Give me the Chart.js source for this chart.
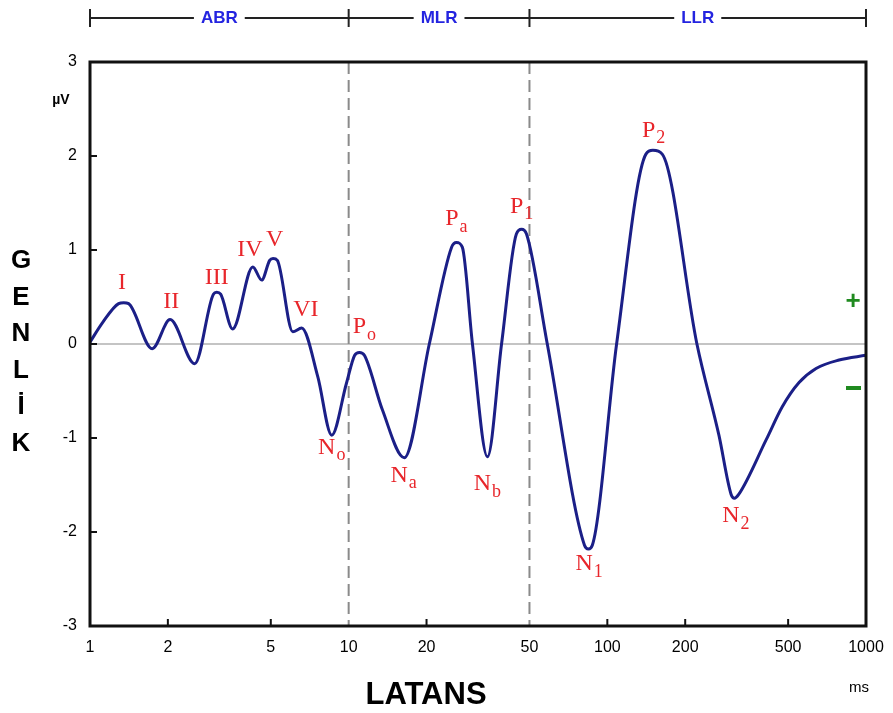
<!DOCTYPE html>
<html>
<head>
<meta charset="utf-8">
<script src="https://cdn.jsdelivr.net/npm/chart.js@4.4.1/dist/chart.umd.min.js"></script>
<style>
  html, body { margin: 0; padding: 0; background: #fff; }
  #wrap { width: 893px; height: 713px; position: relative; }
</style>
</head>
<body>
<div id="wrap"><canvas id="erpChart"></canvas></div>
<script>
// waveform (latency in ms, amplitude in µV)
const latencyMs = [1.0, 1.12, 1.29, 1.35, 1.41, 1.74, 2.04, 2.54, 3.0, 3.09, 3.2, 3.56, 4.26, 4.61,
  4.95, 5.1, 5.3, 6.08, 6.58, 7.6, 8.6, 9.8, 10.55, 11.0, 11.5, 13.5, 16.4, 20.5, 25.0, 26.1, 27.5,
  30.1, 34.4, 39.0, 44.5, 46.6, 48.7, 58.6, 81.6, 84.5, 87.5, 108.6, 141, 150, 163, 222, 270,
  301, 310, 322, 411, 474, 551, 641, 787, 1000];
const amplitudeUv = [0.02, 0.23, 0.43, 0.44, 0.43, -0.05, 0.26, -0.21, 0.53, 0.55, 0.53, 0.16, 0.82, 0.68,
  0.89, 0.91, 0.89, 0.13, 0.17, -0.35, -0.97, -0.42, -0.12, -0.09, -0.12, -0.7, -1.21, 0.0, 1.03, 1.08, 1.03,
  0.0, -1.2, 0.0, 1.17, 1.22, 1.17, 0.0, -2.14, -2.18, -2.14, 0.0, 2.02, 2.06, 2.02, 0.0, -0.97,
  -1.6, -1.64, -1.6, -1.02, -0.67, -0.41, -0.26, -0.17, -0.12];

const xTicks = [1, 2, 5, 10, 20, 50, 100, 200, 500, 1000];
const yTicks = [-3, -2, -1, 0, 1, 2, 3];

// wave component names (main letter + subscript) and where they sit (ms, µV)
const peakNames = ['I', 'II', 'III', 'IV', 'V', 'VI', 'P', 'N', 'N', 'P', 'N', 'P', 'N', 'P', 'N'];
const peakSubs  = ['', '', '', '', '', '', 'o', 'o', 'a', 'a', 'b', '1', '1', '2', '2'];
const peakMs    = [1.33, 2.06, 3.09, 4.15, 5.18, 6.83, 11.5, 8.6, 16.3, 26.1, 34.4, 46.6, 85, 151, 314];
const peakUv    = [0.65, 0.45, 0.71, 1.0, 1.11, 0.36, 0.15, -1.13, -1.43, 1.30, -1.52, 1.43, -2.37, 2.24, -1.86];

const regionNames = ['ABR', 'MLR', 'LLR'];
const regionBounds = [1, 10, 50, 1000];
const dividerMs = [10, 50];

const decor = {
  id: 'decor',
  beforeDatasetsDraw(chart) {
    const { ctx, chartArea: a, scales: { x, y } } = chart;
    ctx.save();
    // zero line
    ctx.strokeStyle = '#c4c4c4';
    ctx.lineWidth = 2;
    ctx.beginPath();
    ctx.moveTo(a.left, y.getPixelForValue(0));
    ctx.lineTo(a.right, y.getPixelForValue(0));
    ctx.stroke();
    // dashed dividers
    ctx.strokeStyle = '#8a8a8a';
    ctx.lineWidth = 2;
    ctx.setLineDash([12, 6]);
    dividerMs.forEach(v => {
      const px = x.getPixelForValue(v);
      ctx.beginPath();
      ctx.moveTo(px, a.top);
      ctx.lineTo(px, a.bottom);
      ctx.stroke();
    });
    ctx.restore();
  },
  afterDatasetsDraw(chart) {
    const { ctx, chartArea: a, scales: { x, y } } = chart;
    ctx.save();

    // inward tick marks
    ctx.strokeStyle = '#111';
    ctx.lineWidth = 2;
    yTicks.slice(1, -1).forEach(v => {
      const py = y.getPixelForValue(v);
      ctx.beginPath();
      ctx.moveTo(a.left, py);
      ctx.lineTo(a.left + 7, py);
      ctx.stroke();
    });
    xTicks.slice(1, -1).forEach(v => {
      if (dividerMs.includes(v)) return;
      const px = x.getPixelForValue(v);
      ctx.beginPath();
      ctx.moveTo(px, a.bottom);
      ctx.lineTo(px, a.bottom - 7);
      ctx.stroke();
    });

    // frame
    ctx.strokeStyle = '#111';
    ctx.lineWidth = 3;
    ctx.strokeRect(a.left, a.top, a.right - a.left, a.bottom - a.top);

    // component labels
    ctx.fillStyle = '#e8262b';
    ctx.textBaseline = 'middle';
    ctx.textAlign = 'left';
    const mainFont = '24px "Liberation Serif", "Times New Roman", serif';
    const subFont = '18px "Liberation Serif", "Times New Roman", serif';
    peakNames.forEach((name, i) => {
      const cx = x.getPixelForValue(peakMs[i]);
      const cy = y.getPixelForValue(peakUv[i]);
      ctx.font = mainFont;
      const w1 = ctx.measureText(name).width;
      ctx.font = subFont;
      const w2 = peakSubs[i] ? ctx.measureText(peakSubs[i]).width + 1 : 0;
      const x0 = cx - (w1 + w2) / 2;
      ctx.font = mainFont;
      ctx.fillText(name, x0, cy - (peakSubs[i] ? 3 : 0));
      if (peakSubs[i]) {
        ctx.font = subFont;
        ctx.fillText(peakSubs[i], x0 + w1 + 1, cy + 5);
      }
    });

    // region bracket on top
    const by = 18;
    ctx.strokeStyle = '#222';
    ctx.lineWidth = 2;
    ctx.beginPath();
    ctx.moveTo(x.getPixelForValue(regionBounds[0]), by);
    ctx.lineTo(x.getPixelForValue(regionBounds[regionBounds.length - 1]), by);
    ctx.stroke();
    regionBounds.forEach(v => {
      const px = x.getPixelForValue(v);
      ctx.beginPath();
      ctx.moveTo(px, by - 9);
      ctx.lineTo(px, by + 9);
      ctx.stroke();
    });
    ctx.font = 'bold 17px "Liberation Sans", Arial, sans-serif';
    ctx.textAlign = 'center';
    regionNames.forEach((name, i) => {
      const l = Math.log10(regionBounds[i]), r = Math.log10(regionBounds[i + 1]);
      const px = x.getPixelForValue(Math.pow(10, (l + r) / 2));
      const w = ctx.measureText(name).width;
      ctx.fillStyle = '#fff';
      ctx.fillRect(px - w / 2 - 7, by - 6, w + 14, 12);
      ctx.fillStyle = '#2424e0';
      ctx.fillText(name, px, by);
    });

    // axis titles
    ctx.fillStyle = '#000';
    ctx.font = 'bold 26px "Liberation Sans", Arial, sans-serif';
    'GENLİK'.split('').forEach((ch, i) => ctx.fillText(ch, 21, 261 + i * 36.5));
    ctx.font = 'bold 31px "Liberation Sans", Arial, sans-serif';
    ctx.fillText('LATANS', 426, 695);
    ctx.font = '15px "Liberation Sans", Arial, sans-serif';
    ctx.fillText('ms', 859, 688);
    ctx.font = 'bold 14px "Liberation Sans", Arial, sans-serif';
    ctx.fillText('µV', 61, 100);

    // polarity marks
    ctx.fillStyle = '#1f8a1f';
    ctx.font = 'bold 26px "Liberation Sans", Arial, sans-serif';
    ctx.fillText('+', 853, 302);
    ctx.fillRect(846, 386, 15, 4);

    ctx.restore();
  }
};

new Chart(document.getElementById('erpChart'), {
  type: 'line',
  data: {
    datasets: [{
      data: latencyMs.map((ms, i) => ({ x: ms, y: amplitudeUv[i] })),
      borderColor: '#1b1f87',
      borderWidth: 3,
      pointRadius: 0,
      fill: false,
      cubicInterpolationMode: 'monotone'
    }]
  },
  options: {
    responsive: true,
    maintainAspectRatio: false,
    animation: false,
    devicePixelRatio: 1,
    layout: { padding: { left: 50, right: 27, top: 62, bottom: 57 } },
    plugins: { legend: { display: false }, tooltip: { enabled: false } },
    scales: {
      x: {
        type: 'logarithmic',
        min: 1,
        max: 1000,
        afterBuildTicks: s => { s.ticks = xTicks.map(v => ({ value: v })); },
        afterFit: s => { s.height = 30; s.paddingLeft = 0; s.paddingRight = 0; },
        grid: { display: false, drawTicks: false },
        border: { display: false },
        ticks: {
          autoSkip: false,
          maxRotation: 0,
          padding: 12,
          color: '#000',
          font: { size: 16, family: '"Liberation Sans", Arial, sans-serif' },
          callback: v => String(v)
        }
      },
      y: {
        min: -3,
        max: 3,
        afterBuildTicks: s => { s.ticks = yTicks.map(v => ({ value: v })); },
        afterFit: s => { s.width = 40; },
        grid: { display: false, drawTicks: false },
        border: { display: false },
        ticks: {
          padding: 13,
          color: '#000',
          font: { size: 16, family: '"Liberation Sans", Arial, sans-serif' }
        }
      }
    }
  },
  plugins: [decor]
});
</script>
</body>
</html>
